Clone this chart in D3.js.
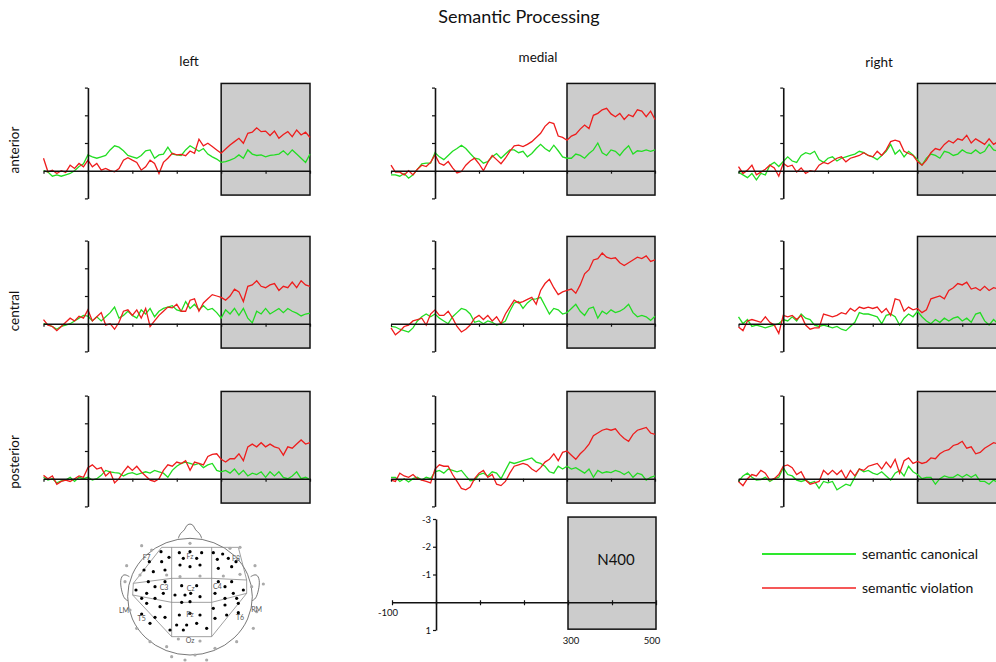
<html>
<head>
<meta charset="utf-8">
<script src="https://d3js.org/d3.v7.min.js"></script>
<style>
  body { margin: 0; background: #fff; }
  text { font-family: Lato, "Open Sans", sans-serif; fill: #111; }
</style>
</head>
<body>
<script>
// time points in ms, every 10 ms
var times = d3.range(-100, 501, 10);

// ERP amplitudes in microvolts (negative is plotted up)
// anterior row
var antLeftCanon = [0.0,0.05,0.2,0.15,0.2,0.15,0.1,0.0,-0.15,-0.25,-0.57,-0.5,-0.45,-0.5,-0.55,-0.75,-0.9,-0.85,-0.72,-0.55,-0.5,-0.45,-0.55,-0.72,-0.75,-0.45,-0.57,-0.6,-0.85,-0.6,-0.57,-0.55,-0.75,-0.9,-0.8,-0.7,-0.8,-0.6,-0.5,-0.42,-0.3,-0.33,-0.38,-0.45,-0.57,-0.45,-0.75,-0.6,-0.55,-0.57,-0.5,-0.55,-0.57,-0.6,-0.72,-0.57,-0.75,-0.6,-0.45,-0.3,-0.6];
var antLeftViol = [-0.45,0.04,-0.02,0.1,0.0,0.06,-0.2,-0.08,-0.26,-0.14,-0.38,-0.14,-0.26,-0.02,-0.08,0.0,0.04,-0.08,-0.38,-0.47,-0.38,-0.3,-0.02,-0.14,-0.38,-0.26,0.1,-0.3,-0.45,-0.63,-0.57,-0.59,-0.54,-0.71,-0.63,-1.14,-0.9,-0.99,-0.87,-0.75,-0.63,-0.78,-0.93,-1.05,-1.17,-0.99,-1.35,-1.39,-1.55,-1.41,-1.43,-1.27,-1.43,-1.17,-1.31,-1.41,-1.23,-1.47,-1.29,-1.39,-1.2];
var antMedCanon = [0.15,0.15,0.2,0.1,0.27,0.15,-0.05,-0.25,-0.27,-0.27,-0.65,-0.5,-0.4,-0.55,-0.7,-0.8,-0.92,-0.8,-0.62,-0.45,-0.42,-0.27,-0.33,-0.5,-0.62,-0.45,-0.6,-0.75,-0.75,-0.65,-0.7,-0.5,-0.62,-0.8,-0.95,-0.8,-0.7,-0.92,-0.72,-0.5,-0.45,-0.45,-0.6,-0.55,-0.45,-0.62,-0.75,-1.0,-0.65,-0.55,-0.75,-0.7,-0.55,-0.75,-0.9,-0.6,-0.72,-0.7,-0.75,-0.7,-0.75];
var antMedViol = [-0.2,0.05,0.05,0.15,0.0,0.15,-0.05,-0.2,-0.15,-0.3,-0.57,-0.27,-0.2,-0.33,-0.1,0.08,0.03,-0.2,-0.35,-0.45,-0.25,0.0,-0.3,-0.55,-0.4,-0.25,-0.45,-0.7,-0.9,-0.92,-0.87,-0.95,-1.05,-1.2,-1.35,-1.6,-1.75,-1.7,-1.25,-1.2,-1.1,-1.25,-1.32,-1.5,-1.65,-1.52,-2.0,-2.07,-2.2,-2.25,-2.05,-1.95,-2.07,-1.85,-2.02,-1.95,-2.2,-2.15,-1.95,-2.15,-1.85];
var antRightCanon = [0.05,0.15,0.25,0.1,0.33,0.1,0.15,-0.2,-0.3,-0.15,-0.33,-0.5,-0.35,-0.3,-0.55,-0.65,-0.6,-0.7,-0.4,-0.3,-0.45,-0.5,-0.35,-0.45,-0.5,-0.55,-0.6,-0.7,-0.65,-0.55,-0.5,-0.4,-0.55,-0.7,-0.95,-0.6,-0.75,-0.5,-0.7,-0.57,-0.4,-0.2,-0.45,-0.6,-0.55,-0.45,-0.7,-0.65,-0.55,-0.6,-0.75,-0.65,-0.62,-0.75,-0.62,-0.7,-0.95,-0.75,-0.7,-0.72,-0.7];
var antRightViol = [-0.15,0.1,-0.02,-0.2,0.15,0.05,-0.05,-0.2,-0.1,0.2,-0.27,-0.15,-0.2,0.05,-0.1,0.1,0.0,0.03,-0.2,-0.3,-0.25,-0.35,-0.45,-0.5,-0.32,-0.45,-0.5,-0.55,-0.65,-0.55,-0.5,-0.7,-0.55,-0.75,-1.05,-1.1,-1.05,-0.7,-0.62,-0.55,-0.33,-0.2,-0.38,-0.65,-0.8,-0.75,-0.95,-1.08,-1.0,-1.15,-1.1,-1.28,-1.0,-1.15,-1.05,-0.95,-1.15,-0.95,-1.05,-1.0,-1.05];
// central row
var cenLeftCanon = [0.0,0.03,0.1,0.2,0.1,0.05,0.0,-0.1,-0.2,-0.3,-0.27,-0.1,-0.25,-0.1,-0.25,-0.4,-0.6,-0.2,-0.3,-0.45,-0.3,-0.2,-0.5,-0.35,-0.55,-0.25,-0.45,-0.55,-0.6,-0.65,-0.5,-0.45,-0.8,-0.55,-0.7,-0.5,-0.65,-0.5,-0.55,-0.4,-0.2,-0.5,-0.35,-0.55,-0.3,-0.55,-0.2,-0.03,-0.45,-0.35,-0.55,-0.35,-0.45,-0.55,-0.4,-0.55,-0.45,-0.38,-0.28,-0.35,-0.38];
var cenLeftViol = [-0.15,0.05,0.1,0.25,0.1,-0.05,-0.2,-0.1,-0.27,-0.2,-0.5,-0.1,-0.25,-0.4,0.05,0.0,0.2,-0.05,-0.45,-0.5,-0.3,-0.5,-0.2,-0.55,0.1,-0.1,-0.3,-0.45,-0.6,-0.57,-0.7,-0.45,-0.45,-0.85,-0.9,-0.45,-0.75,-0.9,-1.05,-1.0,-0.95,-0.85,-1.0,-1.25,-1.15,-0.8,-1.35,-1.4,-1.55,-1.35,-1.3,-1.4,-1.45,-1.2,-1.35,-1.3,-1.5,-1.3,-1.55,-1.4,-1.35];
var cenMedCanon = [0.1,0.12,0.2,0.25,0.3,0.15,-0.1,-0.25,-0.35,-0.25,-0.35,-0.2,-0.1,0.0,-0.25,-0.4,-0.55,-0.5,-0.35,-0.05,-0.1,0.0,-0.1,-0.05,0.05,0.0,-0.1,-0.45,-0.75,-0.8,-0.55,-0.75,-0.88,-0.9,-0.95,-0.65,-0.35,-0.55,-0.5,-0.35,-0.4,-0.55,-0.7,-0.45,-0.3,-0.55,-0.6,-0.2,-0.45,-0.35,-0.5,-0.4,-0.45,-0.55,-0.7,-0.4,-0.25,-0.3,-0.25,-0.12,-0.27];
var cenMedViol = [0.15,0.4,0.27,0.1,0.05,-0.1,-0.15,-0.2,0.05,-0.35,-0.5,-0.3,-0.3,-0.45,-0.2,0.1,0.3,0.2,0.05,-0.2,-0.3,-0.15,-0.3,-0.1,-0.25,0.0,-0.35,-0.6,-0.85,-0.75,-0.8,-0.88,-0.95,-0.7,-1.2,-1.45,-1.6,-1.3,-1.05,-1.15,-1.2,-1.25,-1.1,-1.4,-1.8,-1.95,-2.3,-2.35,-2.55,-2.4,-2.35,-2.38,-2.2,-2.1,-2.2,-2.3,-2.4,-2.35,-2.45,-2.25,-2.3];
var cenRightCanon = [-0.25,0.0,-0.15,0.1,0.05,0.1,0.15,0.1,0.05,0.0,-0.15,-0.1,-0.25,-0.1,-0.35,-0.2,-0.15,0.05,0.1,0.05,0.1,0.15,0.1,0.2,0.25,0.1,-0.05,-0.4,-0.35,-0.35,-0.3,-0.25,0.0,-0.3,-0.35,-0.25,0.05,-0.2,-0.35,-0.25,-0.45,-0.25,-0.1,0.0,-0.15,-0.05,-0.2,-0.1,-0.2,-0.25,-0.1,-0.2,-0.05,-0.35,-0.4,-0.1,0.05,-0.15,0.0,-0.2,-0.2];
var cenRightViol = [0.12,0.25,-0.1,-0.15,-0.1,-0.05,-0.25,-0.05,0.05,0.35,-0.3,-0.25,-0.3,-0.15,-0.3,0.05,0.2,0.15,0.15,-0.35,-0.3,-0.25,-0.3,-0.4,-0.35,-0.55,-0.45,-0.6,-0.55,-0.6,-0.55,-0.6,-0.4,-0.55,-0.3,-0.9,-0.85,-0.45,-0.6,-0.5,-0.55,-0.4,-0.5,-0.9,-0.95,-1.0,-0.9,-1.2,-1.3,-1.45,-1.4,-1.5,-1.25,-1.3,-1.2,-1.35,-1.2,-1.3,-1.25,-1.3,-1.3];
// posterior row
var posLeftCanon = [-0.05,0.05,0.0,0.15,0.08,0.05,-0.05,0.1,-0.05,0.0,-0.05,0.05,0.0,-0.12,-0.3,-0.25,-0.22,-0.2,-0.1,-0.18,-0.22,-0.15,-0.2,-0.25,-0.2,-0.3,-0.25,-0.2,-0.05,-0.3,-0.45,-0.55,-0.6,-0.55,-0.5,-0.55,-0.4,-0.5,-0.55,-0.3,-0.25,-0.3,-0.2,-0.35,-0.15,-0.3,-0.1,-0.2,-0.15,-0.25,-0.05,-0.25,-0.1,-0.25,-0.05,0.0,-0.1,-0.25,0.0,-0.05,0.03];
var posLeftViol = [-0.12,0.0,-0.1,0.2,0.1,0.05,0.1,0.0,-0.1,-0.05,-0.4,-0.5,-0.35,-0.4,-0.1,-0.25,0.15,0.0,-0.25,-0.45,-0.3,-0.45,-0.25,-0.1,0.05,0.1,0.0,-0.3,-0.5,-0.45,-0.6,-0.55,-0.65,-0.3,-0.6,-0.55,-0.5,-0.8,-0.88,-0.9,-0.7,-0.6,-0.72,-0.72,-0.9,-0.65,-1.15,-1.25,-1.15,-1.3,-1.15,-1.25,-1.15,-1.1,-0.85,-1.15,-1.1,-1.25,-1.4,-1.25,-1.3];
var posMedCanon = [-0.05,-0.05,0.1,0.0,0.12,0.0,-0.05,0.05,-0.05,0.0,-0.25,-0.3,-0.2,-0.35,-0.3,-0.25,-0.3,-0.1,0.08,0.05,-0.15,-0.2,-0.1,-0.25,-0.2,0.0,-0.3,-0.6,-0.55,-0.6,-0.65,-0.7,-0.75,-0.6,-0.55,-0.45,-0.25,-0.2,-0.45,-0.35,-0.45,-0.35,-0.4,-0.3,-0.2,-0.35,-0.05,-0.3,-0.2,-0.25,-0.22,-0.3,-0.25,-0.15,-0.25,-0.05,-0.2,-0.15,0.05,-0.05,-0.1];
var posMedViol = [0.05,0.1,-0.2,-0.1,-0.05,-0.15,0.0,0.05,0.1,0.15,-0.35,-0.5,-0.45,-0.45,-0.15,0.1,0.35,0.4,0.3,0.0,-0.2,-0.3,-0.05,-0.15,0.2,0.25,0.1,-0.2,-0.45,-0.5,-0.55,-0.5,-0.35,-0.25,-0.4,-0.6,-0.7,-0.9,-0.65,-0.95,-1.0,-0.85,-0.7,-0.9,-1.05,-1.25,-1.55,-1.65,-1.75,-1.8,-1.75,-1.8,-1.6,-1.45,-1.35,-1.6,-1.75,-1.8,-1.85,-1.65,-1.6];
var posRightCanon = [0.1,-0.1,-0.2,-0.05,0.05,0.03,-0.05,0.1,0.0,-0.05,-0.4,-0.15,-0.1,0.05,0.1,0.05,0.15,0.1,0.35,0.1,0.15,0.1,0.4,0.3,0.2,0.25,-0.05,-0.35,-0.25,-0.3,-0.2,-0.15,-0.25,-0.1,0.05,-0.2,-0.3,-0.1,-0.45,-0.25,-0.15,0.0,-0.05,-0.05,0.2,0.0,-0.1,-0.05,-0.05,-0.15,-0.05,-0.15,-0.05,-0.15,0.1,0.1,0.2,0.05,0.15,0.3,0.35];
var posRightViol = [0.1,0.25,0.0,-0.15,-0.1,-0.3,-0.2,0.05,0.0,-0.15,-0.45,-0.5,-0.4,-0.15,-0.25,0.05,0.2,0.15,0.1,-0.3,-0.15,-0.3,-0.15,-0.3,0.0,-0.3,-0.1,-0.35,-0.3,-0.45,-0.5,-0.55,-0.35,-0.6,-0.4,-0.7,-0.2,-0.65,-0.75,-0.55,-0.62,-0.55,-0.6,-0.75,-0.72,-0.9,-1.0,-1.05,-1.2,-1.25,-1.35,-1.1,-1.15,-0.9,-0.95,-1.1,-1.2,-1.3,-1.25,-1.3,-1.25];

var columnNames = ["left", "medial", "right"];
var rowNames = ["anterior", "central", "posterior"];
var canonical = [[antLeftCanon, antMedCanon, antRightCanon], [cenLeftCanon, cenMedCanon, cenRightCanon], [posLeftCanon, posMedCanon, posRightCanon]];
var violation = [[antLeftViol, antMedViol, antRightViol], [cenLeftViol, cenMedViol, cenRightViol], [posLeftViol, posMedViol, posRightViol]];
var xTicks = [-100, 0, 100, 200, 300, 400, 500];
var yTicks = [-3, -2, -1, 1];
var windowN400 = [300, 500];
var legendNames = ["semantic canonical", "semantic violation"];

// head map electrodes (drawing units of the head sketch)
var activeSites = [[183,110],[207,127],[148,140],[185,140],[160,170],[195,165],[132,165],
  [238,113],[270,110],[305,113],[250,130],[290,130],[240,150],[300,150],[270,155],
  [340,113],[368,117],[352,133],[385,130],[408,140],[395,155],[355,160],
  [145,200],[195,200],[165,215],[108,225],[140,235],[190,235],[125,250],[165,250],
  [245,212],[290,212],[255,240],[272,235],[300,245],[225,240],[270,260],[245,262],
  [355,200],[395,200],[375,215],[400,235],[430,225],[345,235],[375,250],[410,250],
  [140,265],[180,275],[125,297],[165,307],[195,307],[150,325],[210,345],
  [238,300],[270,295],[300,300],[230,330],[260,330],[290,325],[250,345],
  [340,280],[375,270],[415,265],[380,300],[415,293],[345,310],[320,340]];
var otherSites = [[125,92],[270,85],[420,97],[80,152],[465,152],[200,180],[240,185],[300,183],[370,183],[420,178],
  [120,180],[75,200],[490,207],[455,215],[90,285],[470,290],[110,340],[460,340],[150,380],[410,380],
  [200,395],[345,400],[285,420],[215,425],[255,435],[320,435],[235,372],[300,378],[155,105],[390,100]];
var siteLabels = [["F7",140,128],["Fz",270,125],["F8",408,130],["C3",192,218],["Cz",272,220],["C4",352,215],
  ["LM",72,285],["RM",470,282],["T5",125,310],["Pz",270,297],["T6",420,307],["Oz",270,375]];

var W = 996, H = 662;
var svg = d3.select("body").append("svg").attr("width", W).attr("height", H);

var red = "#ee1c1c", green = "#22dd22";

// layout of the panel grid
var colX = [[43.5, 310], [391, 655], [738.5, 1007]];
var rowZero = [170.7, 323.7, 478.7];
var uv = 27.7;

svg.append("text").attr("x", 519).attr("y", 23).attr("text-anchor", "middle")
  .style("font-size", "18px").text("Semantic Processing");

var headY = [66, 62, 67];
var headX = [189, 538, 879];
columnNames.forEach(function(c, i) {
  svg.append("text").attr("x", headX[i]).attr("y", headY[i]).attr("text-anchor", "middle")
    .style("font-size", "13.5px").text(c);
});
var rowLabelY = [150, 311, 462];
rowNames.forEach(function(r, i) {
  svg.append("text").attr("transform", "translate(19," + rowLabelY[i] + ") rotate(-90)")
    .attr("text-anchor", "middle").style("font-size", "13.5px").text(r);
});

function panel(g, x, y) {
  g.append("rect")
    .attr("x", x(windowN400[0])).attr("y", y(-3.15))
    .attr("width", x(windowN400[1]) - x(windowN400[0]))
    .attr("height", y(0.88) - y(-3.15))
    .attr("fill", "#cccccc").attr("stroke", "#111").attr("stroke-width", 1.5);
}

function axes(g, x, y) {
  var xa = g.append("g").attr("transform", "translate(0," + y(0) + ")")
    .call(d3.axisBottom(x).tickValues(xTicks).tickSize(3).tickSizeOuter(0).tickFormat(""));
  var ya = g.append("g").attr("transform", "translate(" + x(0) + ",0)")
    .call(d3.axisLeft(y).tickValues(yTicks).tickSize(3).tickSizeOuter(0).tickFormat(""));
  [xa, ya].forEach(function(a) {
    a.select(".domain").attr("stroke", "#111").attr("stroke-width", 1.6);
    a.selectAll(".tick line").attr("stroke", "#111").attr("stroke-width", 1.2);
  });
}

for (var r = 0; r < 3; r++) {
  for (var c = 0; c < 3; c++) {
    var g = svg.append("g");
    var x = d3.scaleLinear().domain([-100, 500]).range(colX[c]);
    var y = d3.scaleLinear().domain([-3, 1]).range([rowZero[r] - 3 * uv, rowZero[r] + uv]);
    panel(g, x, y);
    var line = d3.line().x(function(d, i) { return x(times[i]); }).y(function(d) { return y(d); });
    g.append("path").datum(canonical[r][c]).attr("d", line)
      .attr("fill", "none").attr("stroke", green).attr("stroke-width", 1.3);
    g.append("path").datum(violation[r][c]).attr("d", line)
      .attr("fill", "none").attr("stroke", red).attr("stroke-width", 1.3);
    axes(g, x, y);
  }
}

// scale panel with N400 window
(function() {
  var g = svg.append("g");
  var x = d3.scaleLinear().domain([-100, 500]).range([392, 656]);
  var y = d3.scaleLinear().domain([-3, 1]).range([519, 630]);
  g.append("rect")
    .attr("x", x(300)).attr("y", y(-3.07))
    .attr("width", x(500) - x(300)).attr("height", y(0.97) - y(-3.07))
    .attr("fill", "#cccccc").attr("stroke", "#111").attr("stroke-width", 1.5);
  g.append("text").attr("x", (x(300) + x(500)) / 2 + 4).attr("y", y(-1.35))
    .attr("text-anchor", "middle").style("font-size", "15px").text("N400");
  var xa = g.append("g").attr("transform", "translate(0," + y(0) + ")")
    .call(d3.axisBottom(x).tickValues(xTicks).tickSize(3).tickSizeOuter(0).tickFormat(""));
  xa.selectAll(".tick line").attr("y1", -2);
  var ya = g.append("g").attr("transform", "translate(" + x(0) + ",0)")
    .call(d3.axisLeft(y).tickValues(yTicks).tickSize(3).tickSizeOuter(0).tickFormat(""));
  [xa, ya].forEach(function(a) {
    a.select(".domain").attr("stroke", "#111").attr("stroke-width", 1.6);
    a.selectAll(".tick line").attr("stroke", "#111").attr("stroke-width", 1.2);
  });
  g.selectAll(".ylab").data(yTicks).enter().append("text")
    .attr("x", x(0) - 5).attr("y", function(d) { return y(d) + 3.5; })
    .attr("text-anchor", "end").style("font-size", "9.5px").text(function(d) { return d; });
  g.append("text").attr("x", x(-100) - 4).attr("y", y(0) + 14).attr("text-anchor", "middle")
    .style("font-size", "9.5px").text(xTicks[0]);
  [300, 500].forEach(function(v) {
    g.append("text").attr("x", x(v) + (v === 500 ? -4 : 3)).attr("y", 644).attr("text-anchor", "middle")
      .style("font-size", "9.5px").text(v);
  });
})();

// legend
[green, red].forEach(function(col, i) {
  var ly = 554 + i * 34;
  svg.append("line").attr("x1", 762).attr("x2", 856).attr("y1", ly).attr("y2", ly)
    .attr("stroke", i === 0 ? "#2ee82e" : "#f55858").attr("stroke-width", 2);
  svg.append("text").attr("x", 862).attr("y", ly + 5).style("font-size", "14px").text(legendNames[i]);
});

// head map
(function() {
  var hx = d3.scaleLinear().domain([0, 600]).range([100, 300]);
  var hy = d3.scaleLinear().domain([0, 441]).range([515, 662]);
  var g = svg.append("g").attr("fill", "none").attr("stroke", "#555").attr("stroke-width", 0.8);
  var pl = d3.line().x(function(p) { return hx(p[0]); }).y(function(p) { return hy(p[1]); });
  var plc = d3.line().curve(d3.curveBasis).x(function(p) { return hx(p[0]); }).y(function(p) { return hy(p[1]); });
  // nose and ears
  g.append("path").attr("fill", "#fff").attr("d", plc([[235,70],[240,55],[255,45],[258,32],[270,25],[282,32],[285,45],[300,55],[305,70]]));
  g.append("path").attr("fill", "#fff").attr("d", plc([[88,185],[70,175],[60,195],[64,225],[72,252],[86,258]]));
  g.append("path").attr("fill", "#fff").attr("d", plc([[452,185],[470,175],[480,195],[476,225],[468,252],[454,258]]));
  g.append("ellipse").attr("fill", "#fff").attr("cx", hx(270)).attr("cy", hy(245))
    .attr("rx", hx(457) - hx(270)).attr("ry", hy(420) - hy(245));
  // region grid
  var grid = g.append("g").attr("stroke", "#888");
  grid.append("path").attr("d", pl([[185,97],[415,97],[440,195],[440,235],[335,365],[215,365],[98,240],[100,205],[185,97]]));
  grid.append("path").attr("d", pl([[215,97],[215,365]]));
  grid.append("path").attr("d", pl([[335,97],[335,365]]));
  grid.append("path").attr("d", pl([[100,205],[215,190],[335,190],[440,195]]));
  grid.append("path").attr("d", pl([[98,240],[215,262],[335,262],[440,235]]));
  svg.append("g").selectAll("circle").data(otherSites).enter().append("circle")
    .attr("cx", function(p) { return hx(p[0]); }).attr("cy", function(p) { return hy(p[1]); })
    .attr("r", 1.6).attr("fill", "#aaa");
  svg.append("g").selectAll("circle").data(activeSites).enter().append("circle")
    .attr("cx", function(p) { return hx(p[0]); }).attr("cy", function(p) { return hy(p[1]); })
    .attr("r", 1.6).attr("fill", "#000");
  svg.append("g").selectAll("text").data(siteLabels).enter().append("text")
    .attr("x", function(p) { return hx(p[1]); }).attr("y", function(p) { return hy(p[2]) + 2.5; })
    .attr("text-anchor", "middle").style("font-size", "7px").style("fill", "#555")
    .text(function(p) { return p[0]; });
})();
</script>
</body>
</html>
